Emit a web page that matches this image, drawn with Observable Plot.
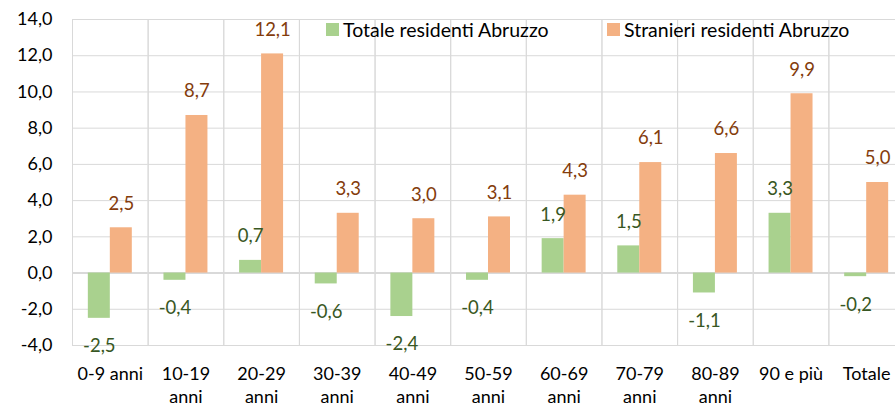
<!DOCTYPE html>
<html>
<head>
<meta charset="utf-8">
<script src="https://cdn.jsdelivr.net/npm/d3@7"></script>
<script src="https://cdn.jsdelivr.net/npm/@observablehq/plot@0.6"></script>
<style>
  html, body { margin: 0; padding: 0; background: #fff; overflow: hidden; }
  #wrap { position: relative; width: 895px; height: 406px; font-family: Lato, sans-serif; }
  .leg { position: absolute; top: 19px; height: 20px; display: flex; align-items: center; font-size: 19.5px; color: #000; white-space: nowrap; }
  .sw { width: 13px; height: 13px; margin-right: 4px; }
</style>
</head>
<body>
<div id="wrap"></div>
<script>
const categories = ["0-9 anni", "10-19 anni", "20-29 anni", "30-39 anni", "40-49 anni", "50-59 anni", "60-69 anni", "70-79 anni", "80-89 anni", "90 e più", "Totale"];
const tickLabels = ["0-9 anni", "10-19\nanni", "20-29\nanni", "30-39\nanni", "40-49\nanni", "50-59\nanni", "60-69\nanni", "70-79\nanni", "80-89\nanni", "90 e più", "Totale"];
const seriesNames = ["Totale residenti Abruzzo", "Stranieri residenti Abruzzo"];
const totaleValues = [-2.5, -0.4, 0.7, -0.6, -2.4, -0.4, 1.9, 1.5, -1.1, 3.3, -0.2];
const stranieriValues = [2.5, 8.7, 12.1, 3.3, 3.0, 3.1, 4.3, 6.1, 6.6, 9.9, 5.0];
const barColors = ["#A9D18E", "#F4B183"];
const labelColors = ["#385723", "#843C0C"];
const yTicks = [-4, -2, 0, 2, 4, 6, 8, 10, 12, 14];

const fmt = d => d.toFixed(1).replace(".", ",");
const seriesValues = [totaleValues, stranieriValues];
const data = [];
categories.forEach((c, i) => {
  seriesNames.forEach((s, j) => data.push({cat: c, series: s, value: seriesValues[j][i], sIdx: j}));
});

const labelMarks = [];
seriesNames.forEach((s, j) => {
  labelMarks.push(Plot.text(data.filter(d => d.series === s && d.value >= 0), {
    fx: "cat", x: "series", y: "value", text: d => fmt(d.value), fill: labelColors[j], dy: -24, fontSize: 18.5
  }));
  labelMarks.push(Plot.text(data.filter(d => d.series === s && d.value < 0), {
    fx: "cat", x: "series", y: "value", text: d => fmt(d.value), fill: labelColors[j], dy: 28, fontSize: 18.5
  }));
});

const chart = Plot.plot({
  width: 895,
  height: 406,
  marginTop: 19,
  marginBottom: 61,
  marginLeft: 72,
  marginRight: -9,
  style: {fontFamily: "Lato, sans-serif", fontSize: "18px", color: "#000", background: "transparent"},
  fx: {domain: categories, padding: 0, round: false, label: null},
  x: {domain: seriesNames, paddingInner: 0, paddingOuter: 0.72, round: false, axis: null},
  y: {domain: [-4, 14], label: null},
  color: {domain: seriesNames, range: barColors},
  marks: [
    Plot.frame({stroke: "#d9d9d9"}),
    Plot.gridY(yTicks, {stroke: "#d9d9d9", strokeOpacity: 1}),
    Plot.ruleY([0], {stroke: "#d9d9d9", strokeWidth: 2}),
    Plot.barY(data, {fx: "cat", x: "series", y: "value", fill: "series"}),
    ...labelMarks,
    Plot.axisY(yTicks, {tickSize: 0, tickPadding: 20, tickFormat: fmt, label: null, fontSize: 18}),
    Plot.axisFx({anchor: "bottom", tickSize: 0, tickPadding: 18, lineHeight: 1.28, label: null, fontSize: 18,
      tickFormat: d => tickLabels[categories.indexOf(d)]})
  ]
});

const wrap = document.getElementById("wrap");
wrap.appendChild(chart);

const legendPos = [326, 607];
seriesNames.forEach((s, j) => {
  const item = document.createElement("div");
  item.className = "leg";
  item.style.left = legendPos[j] + "px";
  const sw = document.createElement("div");
  sw.className = "sw";
  sw.style.background = barColors[j];
  const tx = document.createElement("span");
  tx.textContent = s;
  item.appendChild(sw);
  item.appendChild(tx);
  wrap.appendChild(item);
});
</script>
</body>
</html>
